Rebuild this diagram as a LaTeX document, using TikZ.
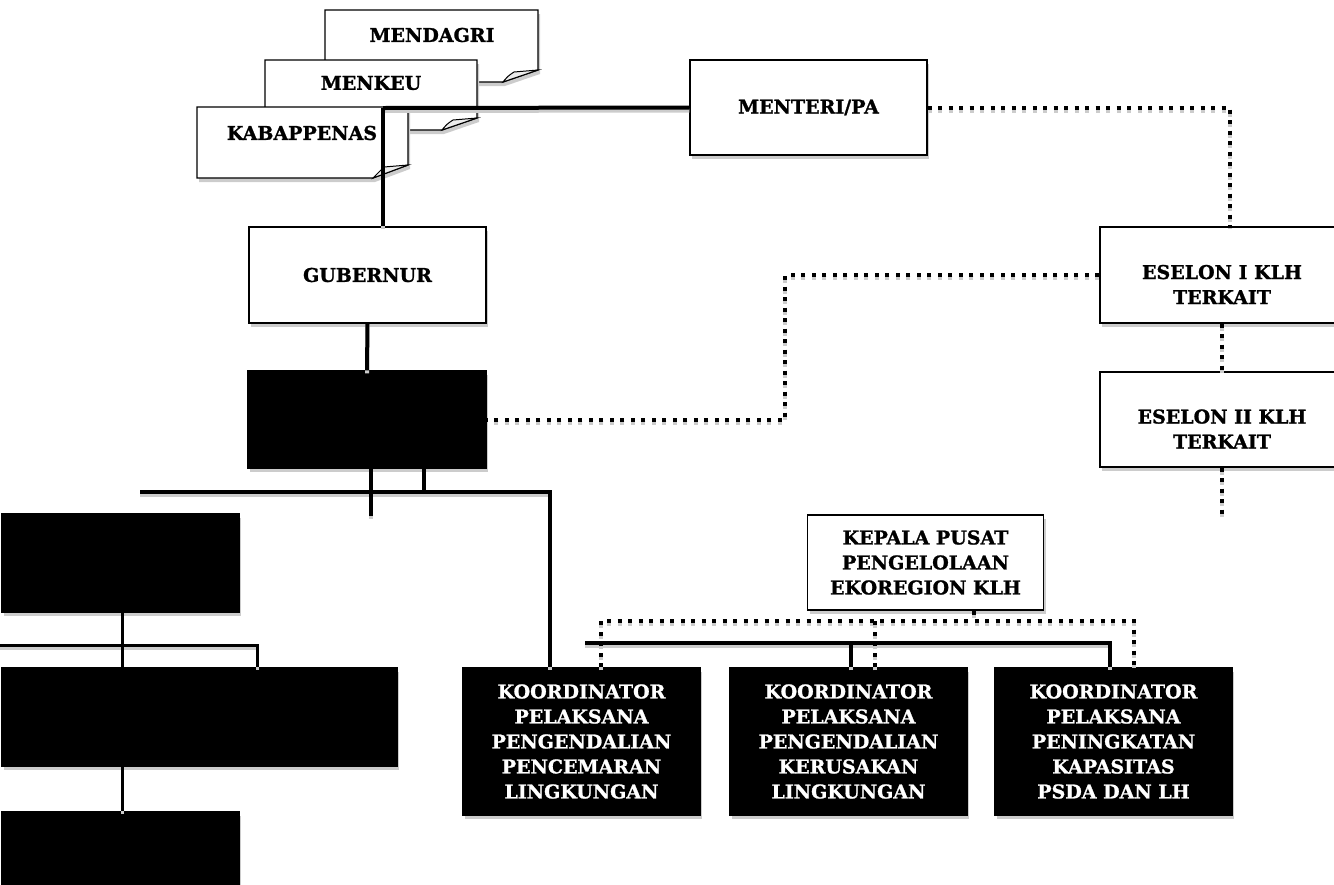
\documentclass[tikz,border=0pt]{standalone}
\usepackage{fontspec}
\setmainfont{DejaVu Serif}[BoldFeatures={FakeBold=1.2}]
\usetikzlibrary{shadows}
\begin{document}
\begin{tikzpicture}[x=1pt,y=-1pt,
  every node/.style={font=\bfseries\fontsize{19}{25}\selectfont, align=center, inner sep=0pt},
  shd/.style={drop shadow={shadow xshift=2pt, shadow yshift=-4pt, fill=gray!40, opacity=1}},
  wbox/.style={draw=black, line width=1.3pt, fill=white, text=black, minimum width=237pt, minimum height=96pt, shd},
  bbox/.style={draw=black, line width=1.3pt, fill=black, text=white, minimum width=237pt, minimum height=96pt, shd},
  lncol/.style={draw=black},
  sline/.style={lncol, line width=4pt},
  thinline/.style={lncol, line width=3pt},
  dline/.style={lncol, line width=4pt, dash pattern=on 4pt off 6.5pt},
  flap/.style={fill=gray!15, draw=black, line width=1pt},
  fold/.style={fill=white, draw=black, line width=1.3pt, shd}]
\useasboundingbox (0,0) rectangle (1334,884);

% folded notes
\path[fold] (325,10) -- (538,10) -- (538,70) -- (503,82) -- (325,82) -- cycle;
\path[flap] (503,82) .. controls (508,76) .. (514,72) -- (538,70) -- cycle;
\node (mendagri) at (432,35) {MENDAGRI};
\path[fold] (265,60) -- (477,60) -- (477,118) -- (442,130) -- (265,130) -- cycle;
\path[flap] (442,130) .. controls (447,124) .. (453,120) -- (477,118) -- cycle;
\node (menkeu) at (371,83) {MENKEU};
\path[fold] (197,107) -- (408,107) -- (408,165) -- (373,178) -- (197,178) -- cycle;
\path[flap] (373,178) .. controls (378,172) .. (384,167) -- (408,165) -- cycle;
\node (kabappenas) at (302,133) {KABAPPENAS};

% boxes
\node[wbox, minimum height=95pt] (menteri) at (808.5,107.5) {MENTERI/PA};
\node[wbox] (gubernur) at (367.5,275) {GUBERNUR};
\node[bbox, minimum width=238pt, minimum height=97pt] (bk1) at (367,419.5) {};
\node[wbox, minimum width=244pt] (eselon1) at (1222,275) {\rule{0pt}{33pt}ESELON I KLH\\TERKAIT};
\node[wbox, minimum width=244pt, minimum height=95pt] (eselon2) at (1222,419.5) {\rule{0pt}{33pt}ESELON II KLH\\TERKAIT};
\node[wbox, minimum width=236pt, minimum height=95pt] (kepala) at (925.5,562.5) {KEPALA PUSAT\\PENGELOLAAN\\EKOREGION KLH};
\node[bbox, minimum height=147pt] (k1) at (581.5,741.5) {KOORDINATOR\\PELAKSANA\\PENGENDALIAN\\PENCEMARAN\\LINGKUNGAN};
\node[bbox, minimum height=147pt] (k2) at (848.5,741.5) {KOORDINATOR\\PELAKSANA\\PENGENDALIAN\\KERUSAKAN\\LINGKUNGAN};
\node[bbox, minimum height=147pt] (k3) at (1113.5,741.5) {KOORDINATOR\\PELAKSANA\\PENINGKATAN\\KAPASITAS\\PSDA DAN LH};
\node[bbox, minimum height=98pt] (la) at (120.5,563) {};
\node[bbox, minimum height=98pt] (lb1) at (120.5,717) {};
\node[bbox, minimum height=98pt] (lb2) at (278.5,717) {};
\node[bbox, minimum height=98pt] (lc) at (120.5,861) {};

% free ends
\coordinate (kj) at (383,108);
\coordinate (hl) at (140,492);
\coordinate (lh) at (0,645);
\coordinate (dL) at (601,621);
\coordinate (dR) at (1134,621);
\coordinate (sL) at (585,643);
\coordinate (sR) at (1110,643);

\newcommand\myconnectors{%
  \draw[sline] (kj) -- (menteri.west);
  \draw[sline] (kj) -- (kj |- gubernur.north);
  \draw[sline] (gubernur.south) -- (bk1.north);
  \draw[sline] ([xshift=3.5pt]bk1.south) -- ++(0,47);
  \draw[sline] ([xshift=57pt]bk1.south) -- ++(0,24);
  \draw[sline] (hl) -| ([xshift=-31.5pt]k1.north);
  \draw[thinline] ([xshift=1.5pt]la.center) -- ([xshift=1.5pt]lc.north);
  \draw[thinline] (lh) -| ([xshift=98pt]lb2.north west);
  \draw[sline] (sL) -- (sR) -- (sR |- k3.north);
  \draw[sline] ([xshift=2.5pt]k2.north) -- ++(0,-25);
  \draw[dline] (menteri.east) -| ([xshift=8pt]eselon1.north);
  \draw[dline] (eselon1.west) -- ++(-314,0) |- (bk1.east);
  \draw[dline] (eselon1.south) -- (eselon2.north);
  \draw[dline] (eselon2.south) -- ++(0,50);
  \draw[dline] ([xshift=48.5pt]kepala.south) -- ([xshift=48.5pt]kepala.south |- dL);
  \draw[dline] (dL |- k1.north) -- (dL) -- (dR) -- (dR |- k3.north);
  \draw[dline] ([xshift=26.5pt]k2.north) -- ([xshift=26.5pt]k2.north |- dL);
}
\begin{scope}[transform canvas={yshift=-3pt}, lncol/.style={draw=gray!40}]
  \myconnectors
\end{scope}
\myconnectors
\end{tikzpicture}
\end{document}
